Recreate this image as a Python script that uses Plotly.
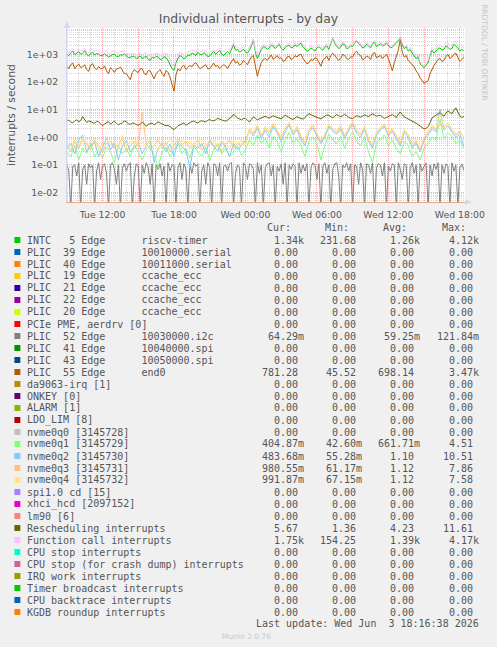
import plotly.graph_objects as go
from datetime import datetime, timedelta

# ---------------- data ----------------
START = datetime(2026, 6, 2, 9, 0)
STEP_FINE_MIN = 10
STEP_NVME_MIN = 20

intc_timer = [1050, 900, 1120, 1300, 980, 1150, 1250, 1000, 1100, 1350, 1000, 880, 1080, 1200, 950, 1050, 1020, 900,
              900, 1050, 950, 800, 870, 980, 1000, 850, 820, 950, 920, 1050, 880, 760, 780, 850,
              820, 700, 760, 880, 700, 800, 850, 650, 600, 780, 720, 850, 800, 640, 680, 820, 750, 600,
              450, 300, 260, 500,
              700, 900, 820, 680, 760, 950, 900, 1100, 1050, 900, 1200, 1000,
              950, 1150, 1000, 820, 880, 1100, 1300, 1000, 1150, 1400, 1000, 900, 1100, 1250, 1050, 1600,
              2200, 1400, 1500, 1200, 1300, 1500, 1250, 1100, 1400, 2000,
              3400, 1200, 700, 1100, 1500, 1900,
              1800, 1500, 1700, 2100, 2000, 1600, 1900, 2300, 1650, 1400, 1750, 2000, 2100, 1700, 1800, 2200, 1900, 2300,
              2500, 1800, 1600, 1300,
              1400, 1700, 1500, 1300, 1700, 1900, 1600, 1400, 1800, 2000, 1500, 2600,
              4000, 2400, 2000, 1600,
              1800, 2400, 2200, 1600, 1700, 2000, 1900, 2600, 3000, 2400, 2200, 1700, 1800, 2300,
              2000, 1700, 2300, 2800, 1900, 2200, 2400, 2000, 2100, 2600, 2000, 1700, 1800, 2200, 2500, 3000,
              4100, 2200, 1600, 1900, 1300, 1500, 1100, 900,
              700, 800, 450, 380, 330, 400, 500, 900,
              1400, 1100, 1300, 1600, 1700, 1400, 1500, 2000, 1800, 1500, 1600, 2300, 2000, 1700, 1300, 1500, 1340]

function_call = [1300, 1150, 1400, 1600, 1250, 1450, 1500, 1300, 1350, 1650, 1250, 1100, 1600, 1450, 1300, 1400, 1350, 1150,
                 1200, 1350, 1300, 1050, 1150, 1250, 1400, 1100, 1100, 1250, 1250, 1350, 1200, 1000, 1050, 1100,
                 1100, 950, 1000, 1150, 950, 1050, 1150, 900, 850, 1000, 1000, 1100, 1100, 900, 950, 1100, 1050, 850,
                 700, 420, 330, 650,
                 950, 1200, 1100, 900, 1000, 1250, 1200, 1400, 1400, 1150, 1500, 1300,
                 1250, 1450, 1300, 1100, 1150, 1400, 1600, 1300, 1450, 1700, 1300, 1200, 1400, 1550, 1350, 2000,
                 2600, 1800, 1900, 1500, 1700, 1900, 1600, 1400, 1800, 2400,
                 3700, 1500, 900, 1400, 1900, 2300,
                 2100, 1800, 2000, 2500, 2400, 1900, 2200, 2700, 1900, 1700, 2000, 2400, 2500, 2000, 2100, 2600, 2300, 2700,
                 2900, 2200, 1900, 1600,
                 1700, 2000, 1800, 1600, 2000, 2300, 1900, 1700, 2100, 2400, 1800, 3000,
                 4170, 2800, 2300, 1900,
                 2100, 2800, 2600, 1900, 2000, 2400, 2200, 3000, 3300, 2800, 2500, 2000, 2100, 2700,
                 2300, 2000, 2700, 3200, 2200, 2600, 2800, 2300, 2400, 3000, 2300, 2000, 2100, 2600, 2800, 3400,
                 4000, 2500, 1900, 2200, 1500, 1800, 1300, 1100,
                 850, 950, 520, 450, 380, 480, 600, 1100,
                 1800, 1400, 1700, 2000, 2200, 1800, 2000, 2600, 2600, 2000, 2200, 3000, 2700, 2200, 1600, 1900, 1750]

end0 = [380, 300, 420, 480, 300, 360, 450, 330, 350, 420, 280, 240, 400, 460, 320, 280, 360, 300,
        300, 380, 250, 200, 330, 280, 220, 300, 300, 350, 260, 200, 200, 160, 120, 220,
        280, 240, 220, 300, 300, 200, 180, 260, 250, 180, 130, 200, 230, 280, 200, 160, 260, 220,
        150, 80, 46, 180,
        300, 250, 350, 400, 280, 330, 400, 350, 450, 500, 380, 300,
        330, 380, 420, 300, 300, 380, 480, 360, 400, 300, 350, 420, 380, 300, 420, 550,
        700, 480, 550, 400, 450, 600, 500, 420, 600, 800,
        900, 350, 160, 300, 500, 650,
        700, 600, 800, 950, 650, 750, 900, 700, 750, 550, 600, 800, 850, 650, 700, 900, 800, 950,
        1000, 700, 550, 450,
        500, 650, 600, 750, 700, 500, 370, 600, 750, 850, 600, 900,
        1100, 900, 800, 600,
        700, 1000, 900, 700, 650, 800, 800, 1100, 1300, 1000, 900, 650, 700, 850,
        800, 650, 1000, 1200, 750, 850, 900, 700, 850, 1000, 700, 450, 250, 500, 900, 1400,
        3470, 1200, 800, 900, 600, 500, 450, 350,
        250, 200, 140, 110, 90, 100, 110, 200,
        300, 400, 500, 650, 700, 550, 600, 850, 1000, 700, 800, 1000, 1100, 800, 550, 650, 781]

rescheduling = [3.8, 4.2, 3.5, 3.3, 3.9, 4.3, 3.6, 4.0, 5.6, 4.1, 3.4, 3.9, 3.7, 3.3, 3.2, 3.8, 3.6, 3.1,
                2.6, 3.0, 3.4, 3.7, 3.0, 3.4, 3.8, 3.2, 2.8, 3.1, 3.3, 3.9, 3.6, 3.1, 2.9, 3.3,
                3.2, 2.9, 2.7, 3.0, 3.5, 3.1, 2.5, 2.9, 3.0, 3.3, 2.8, 3.2, 3.6, 3.3, 3.1, 2.8, 2.6, 2.7,
                2.4, 2.1, 1.9, 2.2,
                2.6, 2.8, 3.0, 3.3, 2.7, 3.1, 3.4, 3.7, 3.9, 3.5, 3.3, 3.7,
                4.0, 3.7, 3.6, 4.1, 4.4, 4.0, 3.9, 4.3, 4.8, 4.5, 4.2, 3.9, 3.8, 4.2, 4.6, 5.4,
                6.8, 5.6, 5.0, 4.6, 4.3, 4.7, 4.8, 4.1, 3.6, 4.4,
                5.5, 4.8, 4.2, 4.6, 5.0, 5.4,
                5.8, 5.2, 4.9, 5.5, 6.0, 5.6, 5.2, 4.8, 4.6, 5.3, 6.4, 5.7, 5.0, 4.7, 4.4, 5.0, 5.6, 5.1,
                4.8, 4.5, 5.2, 6.0,
                7.2, 6.5, 6.0, 5.6, 5.4, 5.0, 4.6, 5.2, 5.8, 6.4, 6.2, 5.6,
                5.0, 5.8, 6.6, 6.0,
                5.5, 6.1, 6.8, 6.0, 5.2, 4.9, 4.7, 5.4, 6.0, 5.7, 5.3, 5.9, 6.4, 6.0,
                5.6, 6.3, 7.0, 6.4, 5.8, 6.1, 6.2, 5.4, 4.8, 5.2, 5.6, 6.0, 6.6, 5.9, 5.2, 6.8,
                8.2, 6.6, 5.4, 5.0, 4.6, 4.3, 4.0, 3.6,
                3.2, 2.9, 2.6, 2.2, 2.0, 2.1, 2.4, 3.4,
                5.0, 5.6, 6.2, 7.0, 7.8, 6.6, 5.8, 7.4, 9.0, 8.0, 7.0, 9.5, 11.6, 8.0, 6.0, 5.2, 5.67]

nvme0q1 = [0.3, 0.2, 0.5, 0.15, 0.4, 0.25, 0.6, 0.2, 0.35, 0.18,
           0.45, 0.3, 0.12, 0.5, 0.25, 0.4, 0.2, 0.55, 0.3, 0.15,
           0.35, 0.5, 0.22, 0.08, 0.3, 0.45, 0.2, 0.35, 0.6, 0.25,
           0.4, 0.18, 0.5, 0.3, 0.2, 0.45, 0.15, 0.35, 0.55, 0.25,
           0.4, 0.2, 0.3, 0.5, 0.22, 0.35,
           0.8, 0.5, 1.2, 0.6, 0.9, 0.4, 1.1, 0.7, 0.3, 0.8,
           1.5, 0.6, 0.9, 0.5, 0.2, 0.7, 1.0, 0.6, 0.15, 0.5,
           1.3, 0.8, 0.6, 1.1, 0.4, 0.9, 1.6, 0.7, 0.5, 1.0,
           0.3, 0.12, 0.6, 0.9, 1.2, 0.5, 0.8, 0.4, 0.25, 0.7,
           0.5, 0.2, 0.3, 0.15, 0.4, 0.6, 1.0, 0.8, 4.5, 0.9,
           1.4, 1.1, 0.6, 0.8, 0.4]

nvme0q2 = [0.4, 0.6, 0.25, 0.8, 1.2, 0.3, 0.5, 0.7, 0.2, 0.45,
           0.9, 0.35, 0.6, 0.15, 0.5, 0.75, 0.3, 0.4, 0.65, 0.25,
           0.5, 0.8, 0.12, 0.4, 0.6, 0.3, 0.55, 0.2, 0.7, 0.45,
           0.35, 0.08, 0.5, 0.4, 0.6, 0.25, 0.8, 0.5, 0.3, 0.7,
           0.45, 0.2, 0.6, 0.35, 0.5, 0.8,
           1.6, 1.1, 2.2, 0.9, 1.8, 1.0, 2.5, 1.4, 0.7, 1.6,
           2.8, 1.2, 1.9, 0.8, 0.5, 1.5, 2.2, 1.1, 0.6, 1.0,
           2.4, 1.6, 1.3, 2.0, 0.9, 1.7, 3.0, 1.4, 1.0, 2.0,
           0.7, 0.4, 1.2, 1.8, 2.5, 1.1, 1.6, 0.9, 0.5, 1.5,
           1.0, 0.4, 0.6, 0.3, 0.8, 1.2, 2.0, 1.6, 10.5, 1.8,
           2.6, 1.5, 1.0, 1.3, 0.48]

nvme0q3 = [0.5, 0.3, 0.7, 0.4, 0.9, 0.6, 0.35, 0.8, 0.5, 0.3,
           0.6, 0.75, 0.4, 0.55, 0.9, 0.3, 0.5, 0.7, 0.45, 7.8,
           0.6, 0.35, 0.5, 0.8, 0.4, 0.65, 0.3, 0.5, 0.9, 0.55,
           0.7, 0.4, 0.6, 0.8, 0.35, 0.5, 0.7, 0.45, 0.6, 0.3,
           0.55, 0.8, 0.4, 0.6, 0.5, 0.7,
           2.0, 1.3, 2.6, 1.1, 2.2, 1.4, 3.0, 1.6, 0.9, 2.0,
           3.2, 1.4, 2.3, 1.0, 0.6, 1.8, 2.6, 1.3, 0.7, 1.2,
           2.8, 1.9, 1.5, 2.4, 1.1, 2.0, 3.5, 1.7, 1.2, 2.3,
           0.8, 0.5, 1.4, 2.1, 2.9, 1.3, 1.9, 1.1, 0.6, 1.8,
           1.2, 0.5, 0.7, 0.35, 0.9, 1.5, 2.4, 1.9, 3.0, 2.2,
           3.5, 1.8, 1.2, 1.6, 0.98]

nvme0q4 = [0.6, 0.4, 0.8, 0.5, 1.0, 0.45, 0.7, 0.9, 0.35, 0.6,
           0.8, 0.5, 0.7, 0.4, 1.1, 0.55, 0.65, 0.9, 0.5, 0.7,
           0.45, 0.8, 0.6, 0.35, 0.75, 0.5, 0.9, 0.6, 0.45, 0.8,
           0.55, 0.7, 0.4, 0.65, 0.9, 0.5, 0.6, 0.8, 0.45, 0.7,
           0.55, 0.4, 0.75, 0.6, 0.8, 0.5,
           2.2, 1.5, 2.9, 1.2, 2.5, 1.6, 3.3, 1.8, 1.0, 2.2,
           3.6, 1.5, 2.6, 1.1, 0.7, 2.0, 2.9, 1.4, 0.8, 1.3,
           3.1, 2.1, 1.7, 2.7, 1.2, 2.2, 3.9, 1.9, 1.3, 2.6,
           0.9, 0.55, 1.6, 2.3, 3.2, 1.4, 2.1, 1.2, 0.7, 2.0,
           1.3, 0.55, 0.8, 0.4, 1.0, 1.7, 2.7, 2.1, 7.5, 2.5,
           3.4, 2.0, 1.3, 1.8, 0.99]

i2c = [0.11, 0.06, 0.003, 0.09, 0.1, 0.04, 0.12, 0.003, 0.07, 0.1,
       0.02, 0.11, 0.08, 0.1, 0.003, 0.06, 0.12, 0.03, 0.09, 0.11,
       0.05, 0.003, 0.1, 0.12, 0.07, 0.02, 0.1, 0.003, 0.08, 0.11,
       0.06, 0.1, 0.12, 0.003, 0.04, 0.11, 0.09, 0.003, 0.1, 0.05,
       0.12, 0.08, 0.02, 0.11, 0.003, 0.1, 0.07, 0.11, 0.04, 0.09,
       0.003, 0.12, 0.06, 0.1, 0.1, 0.003, 0.08, 0.12, 0.03, 0.11,
       0.07, 0.003, 0.1, 0.05, 0.12, 0.09, 0.11, 0.003, 0.06, 0.1,
       0.02, 0.12, 0.08, 0.003, 0.11, 0.1, 0.04, 0.12, 0.003, 0.09,
       0.1, 0.06, 0.11, 0.12, 0.003, 0.05, 0.1, 0.08, 0.003, 0.12,
       0.09, 0.03, 0.11, 0.1, 0.07, 0.003, 0.12, 0.05, 0.1, 0.003,
       0.08, 0.11, 0.12, 0.04, 0.1, 0.003, 0.09, 0.06, 0.11, 0.02,
       0.12, 0.003, 0.1, 0.07, 0.11, 0.09, 0.003, 0.12, 0.05, 0.1,
       0.06, 0.11, 0.003, 0.08, 0.12, 0.1, 0.03, 0.11, 0.003, 0.09,
       0.12, 0.05, 0.1, 0.003, 0.07, 0.11, 0.12, 0.04, 0.003, 0.1,
       0.08, 0.12, 0.06, 0.11, 0.003, 0.1, 0.09, 0.02, 0.12, 0.07,
       0.003, 0.11, 0.1, 0.05, 0.12, 0.003, 0.08, 0.11, 0.1, 0.04,
       0.12, 0.003, 0.09, 0.06, 0.11, 0.1, 0.003, 0.12, 0.07, 0.03,
       0.11, 0.1, 0.003, 0.08, 0.12, 0.05, 0.1, 0.003, 0.11, 0.06,
       0.09, 0.12, 0.003, 0.1, 0.04, 0.11, 0.07, 0.12, 0.003, 0.1,
       0.05, 0.11, 0.09, 0.003, 0.12, 0.06, 0.1, 0.003, 0.08, 0.11,
       0.064]

legend_labels = [
    "INTC   5 Edge      riscv-timer",
    "PLIC  39 Edge      10010000.serial",
    "PLIC  40 Edge      10011000.serial",
    "PLIC  19 Edge      ccache_ecc",
    "PLIC  21 Edge      ccache_ecc",
    "PLIC  22 Edge      ccache_ecc",
    "PLIC  20 Edge      ccache_ecc",
    "PCIe PME, aerdrv [0]",
    "PLIC  52 Edge      10030000.i2c",
    "PLIC  41 Edge      10040000.spi",
    "PLIC  43 Edge      10050000.spi",
    "PLIC  55 Edge      end0",
    "da9063-irq [1]",
    "ONKEY [0]",
    "ALARM [1]",
    "LDO_LIM [8]",
    "nvme0q0 [3145728]",
    "nvme0q1 [3145729]",
    "nvme0q2 [3145730]",
    "nvme0q3 [3145731]",
    "nvme0q4 [3145732]",
    "spi1.0 cd [15]",
    "xhci_hcd [2097152]",
    "lm90 [6]",
    "Rescheduling interrupts",
    "Function call interrupts",
    "CPU stop interrupts",
    "CPU stop (for crash dump) interrupts",
    "IRQ work interrupts",
    "Timer broadcast interrupts",
    "CPU backtrace interrupts",
    "KGDB roundup interrupts",
]
legend_colors = [
    "#00CC00", "#0066B3", "#FF8000", "#FFCC00", "#330099", "#990099",
    "#CCFF00", "#FF0000", "#808080", "#008F00", "#00487D", "#B35A00",
    "#B38F00", "#6B006B", "#8FB300", "#B30000", "#BEBEBE", "#80FF80",
    "#80C9FF", "#FFC080", "#FFE680", "#AA80FF", "#EE00CC", "#FF8080",
    "#666600", "#FFBFFF", "#00FFCC", "#CC6699", "#999900", "#00CC00",
    "#0066B3", "#FF8000",
]
Z = "0.00"
cur_vals = ["1.34k", Z, Z, Z, Z, Z, Z, Z, "64.29m", Z, Z, "781.28", Z, Z, Z, Z, Z,
            "404.87m", "483.68m", "980.55m", "991.87m", Z, Z, Z, "5.67", "1.75k",
            Z, Z, Z, Z, Z, Z]
min_vals = ["231.68", Z, Z, Z, Z, Z, Z, Z, Z, Z, Z, "45.52", Z, Z, Z, Z, Z,
            "42.60m", "55.28m", "61.17m", "67.15m", Z, Z, Z, "1.36", "154.25",
            Z, Z, Z, Z, Z, Z]
avg_vals = ["1.26k", Z, Z, Z, Z, Z, Z, Z, "59.25m", Z, Z, "698.14", Z, Z, Z, Z, Z,
            "661.71m", "1.10", "1.12", "1.12", Z, Z, Z, "4.23", "1.39k",
            Z, Z, Z, Z, Z, Z]
max_vals = ["4.12k", Z, Z, Z, Z, Z, Z, Z, "121.84m", Z, Z, "3.47k", Z, Z, Z, Z, Z,
            "4.51", "10.51", "7.86", "7.58", Z, Z, Z, "11.61", "4.17k",
            Z, Z, Z, Z, Z, Z]

x_tick_labels = ["Tue 12:00", "", "Tue 18:00", "", "Wed 00:00", "", "Wed 06:00",
                 "", "Wed 12:00", "", "Wed 18:00"]
y_tick_vals = [0.01, 0.1, 1, 10, 100, 1000]
y_tick_text = ["1e-02", "1e-01", "1e+00", "1e+01", "1e+02", "1e+03"]

# ---------------- figure ----------------
W, H = 497, 647
PL, PR, PT, PB = 67, 468, 28, 202   # plot area in pixels
TXT = "#555555"


def px(x):
    return (x - PL) / (PR - PL)


def py(y):
    return (PB - y) / (PB - PT)


def times(n, step):
    return [START + timedelta(minutes=step * i) for i in range(n)]


fig = go.Figure()
series = [
    (intc_timer, "#00CC00", STEP_FINE_MIN),
    (i2c, "#808080", STEP_FINE_MIN),
    (end0, "#B35A00", STEP_FINE_MIN),
    (nvme0q1, "#80FF80", STEP_NVME_MIN),
    (nvme0q2, "#80C9FF", STEP_NVME_MIN),
    (nvme0q3, "#FFC080", STEP_NVME_MIN),
    (nvme0q4, "#FFE680", STEP_NVME_MIN),
    (rescheduling, "#666600", STEP_FINE_MIN),
    (function_call, "#FFBFFF", STEP_FINE_MIN),
]
for vals, col, step in series:
    fig.add_trace(go.Scatter(x=times(len(vals), step), y=vals, mode="lines",
                             line=dict(color=col, width=1), showlegend=False,
                             hoverinfo="skip"))

x0 = datetime(2026, 6, 2, 9, 1)
x1 = x0 + timedelta(minutes=5 * (PR - PL))
tickvals = [datetime(2026, 6, 2, 12, 0) + timedelta(hours=3 * k) for k in range(len(x_tick_labels))]

fig.update_layout(
    width=W, height=H,
    margin=dict(l=PL, r=W - PR, t=PT, b=H - PB, pad=0),
    paper_bgcolor="#F0F0F0", plot_bgcolor="#FFFFFF",
    font=dict(family="DejaVu Sans", color=TXT, size=9.3),
    title=dict(text="Individual interrupts - by day", x=0.5, xanchor="center",
               y=1 - 19 / H, yanchor="middle", yref="container",
               font=dict(family="DejaVu Sans", size=12.4, color=TXT)),
    xaxis=dict(range=[x0, x1], tickmode="array", tickvals=tickvals, ticktext=x_tick_labels,
               showgrid=True, gridcolor="#F2A8A8", griddash="1px,1px", gridwidth=1,
               minor=dict(tickmode="linear", tick0=datetime(2026, 6, 2, 0, 0), dtick=3600000,
                          showgrid=True, gridcolor="#D6D6D6", griddash="1px,1px", gridwidth=1),
               showline=True, linecolor="#E0A888", linewidth=1, mirror=False,
               ticks="", zeroline=False, tickfont=dict(size=9.3, color=TXT),
               ticklabelstandoff=4),
    yaxis=dict(type="log", range=[-2.34, 3.95], tickmode="array", tickvals=y_tick_vals,
               ticktext=y_tick_text, showgrid=True, gridcolor="#F2A8A8", griddash="1px,1px",
               minor=dict(dtick="D1", showgrid=True, gridcolor="#D6D6D6", griddash="1px,1px"),
               showline=True, linecolor="#CFD6F8", linewidth=1, ticks="", zeroline=False,
               tickfont=dict(size=9.3, color=TXT), ticklabelstandoff=6),
)

ann = []
shapes = []
ann.append(dict(x=px(10.7), y=py(115), xref="paper", yref="paper", text="interrupts / second",
                textangle=-90, showarrow=False, xanchor="center", yanchor="middle",
                font=dict(family="DejaVu Sans", size=10.8, color=TXT)))
ann.append(dict(x=px(488), y=py(53), xref="paper", yref="paper", text="RRDTOOL / TOBI OETIKER",
                textangle=90, showarrow=False, xanchor="center", yanchor="middle",
                font=dict(family="DejaVu Sans", size=7.5, color="#C4C4C4")))
shapes.append(dict(type="path", xref="paper", yref="paper", fillcolor="#CFD6F8", line=dict(width=0),
                   path=f"M {px(64)} {py(28)} L {px(70)} {py(28)} L {px(67)} {py(21)} Z"))
shapes.append(dict(type="line", xref="paper", yref="paper", x0=px(67), x1=px(67), y0=py(202), y1=py(24),
                   line=dict(color="#CFD6F8", width=1)))
shapes.append(dict(type="path", xref="paper", yref="paper", fillcolor="#CFD6F8", line=dict(width=0),
                   path=f"M {px(468)} {py(199)} L {px(468)} {py(205)} L {px(475)} {py(202)} Z"))

MONO = "DejaVu Sans Mono"


def nb(s):
    return s.replace(" ", "\u00a0")


for txt, xr in [("Cur:", 293.3), ("Min:", 352.3), ("Avg:", 410.7), ("Max:", 470.0)]:
    ann.append(dict(x=px(xr), y=py(227.3), xref="paper", yref="paper", text=txt, showarrow=False,
                    xanchor="right", yanchor="middle", borderpad=0,
                    font=dict(family=MONO, size=10, color=TXT)))

col_ends = [306.7, 365.3, 424.0, 482.7]
for k, label in enumerate(legend_labels):
    yc = 240 + 12 * k
    shapes.append(dict(type="rect", xref="paper", yref="paper", x0=px(14), x1=px(20),
                       y0=py(yc + 3), y1=py(yc - 3), fillcolor=legend_colors[k], line=dict(width=0)))
    ann.append(dict(x=px(26), y=py(yc), xref="paper", yref="paper", text=nb(label), showarrow=False,
                    xanchor="left", yanchor="middle", borderpad=0,
                    font=dict(family=MONO, size=10, color=TXT)))
    for vals, ce in zip([cur_vals, min_vals, avg_vals, max_vals], col_ends):
        v = vals[k]
        xr = ce if v[-1].isalpha() else ce - 6.0
        ann.append(dict(x=px(xr), y=py(yc), xref="paper", yref="paper", text=v, showarrow=False,
                        xanchor="right", yanchor="middle", borderpad=0,
                        font=dict(family=MONO, size=10, color=TXT)))

ann.append(dict(x=px(482.7), y=py(623.7), xref="paper", yref="paper",
                text=nb("Last update: Wed Jun  3 18:16:38 2026"), showarrow=False,
                xanchor="right", yanchor="middle", borderpad=0,
                font=dict(family=MONO, size=10, color=TXT)))
ann.append(dict(x=px(248), y=py(636.3), xref="paper", yref="paper", text="Munin 2.0.76",
                showarrow=False, xanchor="center", yanchor="middle", borderpad=0,
                font=dict(family="DejaVu Sans", size=7.5, color="#C8C8C8")))

fig.update_layout(annotations=ann, shapes=shapes)
fig.write_html("out.html")
